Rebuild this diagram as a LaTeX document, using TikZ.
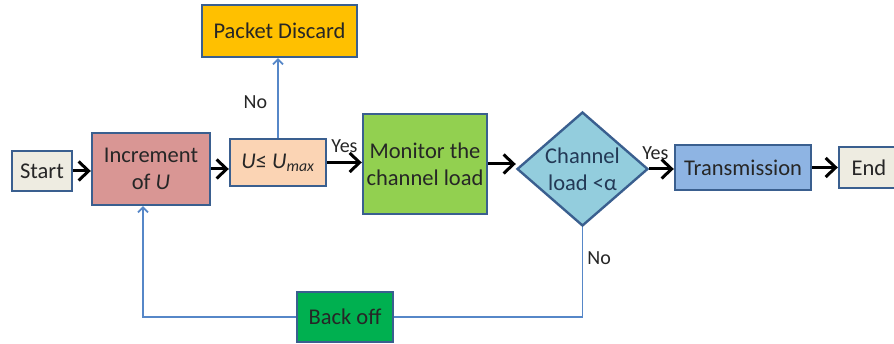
\documentclass[tikz,border=0pt]{standalone}
\usepackage{fontspec}
\setmainfont{Carlito}
\usetikzlibrary{shapes.geometric,arrows.meta}

\definecolor{frame}{HTML}{3A5F8F}
\definecolor{lineblue}{HTML}{5687C8}
\definecolor{ink}{HTML}{262626}
\definecolor{startfill}{HTML}{EEECE1}
\definecolor{incfill}{HTML}{D99694}
\definecolor{ufill}{HTML}{FBD4B4}
\definecolor{dropfill}{HTML}{FFC000}
\definecolor{monfill}{HTML}{92D050}
\definecolor{checkfill}{HTML}{93CDDD}
\definecolor{sendfill}{HTML}{8EB4E3}
\definecolor{backfill}{HTML}{00B050}

\begin{document}
\begin{tikzpicture}[x=1pt,y=1pt,>={Straight Barb[length=10pt,width=19pt,line width=3pt]},
    box/.style={rectangle,draw=frame,line width=2.4pt,align=center,inner sep=0pt,text=ink,font=\fontsize{22.5}{27}\selectfont},
    flow/.style={->,line width=3pt,black},
    backline/.style={line width=1.8pt,lineblue},
    lbl/.style={text=ink,font=\fontsize{20}{24}\selectfont,inner sep=2pt}]
    \useasboundingbox (0,0) rectangle (894,344);

    \node[box,fill=startfill,minimum width=60pt,minimum height=40pt] (start) at (42,173) {Start};
    \node[box,fill=incfill,minimum width=118pt,minimum height=72pt] (inc) at (151,175) {Increment\\of \textit{U}};
    \node[box,fill=ufill,minimum width=96pt,minimum height=47pt] (ucheck) at (278,181.5) {\textit{U}≤ \textit{U}\textsubscript{\textit{max}}};
    \node[box,fill=dropfill,minimum width=155pt,minimum height=52pt] (drop) at (279.5,313) {Packet Discard};
    \node[box,fill=monfill,minimum width=124pt,minimum height=100pt] (mon) at (425,180) {Monitor the\\channel load};
    \node[box,diamond,fill=checkfill,text=frame!60!black,shape aspect=1.15,minimum width=131pt,minimum height=114pt] (load) at (582.5,175) {Channel\\load <α};
    \node[box,fill=sendfill,minimum width=136pt,minimum height=45pt] (send) at (743,176.5) {Transmission};
    \node[box,fill=startfill,minimum width=60pt,minimum height=41pt] (stop) at (869,176.5) {End};
    \node[box,fill=backfill,minimum width=96pt,minimum height=50pt] (back) at (345,27) {Back off};

    % main line
    \draw[flow] (start) -- (start -| inc.west);
    \draw[flow] (inc) -- (inc -| ucheck.west);
    \draw[flow] (ucheck) -- (ucheck -| mon.west) node[lbl,midway,above=6pt] {Yes};
    \draw[flow] (mon) -- (mon -| load.west);
    \draw[flow] (load) -- (load -| send.west) node[lbl,pos=0.25,above=6pt] {Yes};
    \draw[flow] (send) -- (send -| stop.west);

    % no branches
    \draw[backline,->,>={Straight Barb[length=5pt,width=10pt]}] (ucheck) -- (ucheck |- drop.south) node[lbl,pos=0.45,left=8pt] {No};
    \draw[backline] (load.south) -- (load.south |- back.east) node[lbl,pos=0.35,right=2pt] {No} -- (back.east);
    \draw[backline,->,>={Straight Barb[length=5pt,width=10pt]}] (back.west) -| ([xshift=-8pt]inc.south);
\end{tikzpicture}
\end{document}
